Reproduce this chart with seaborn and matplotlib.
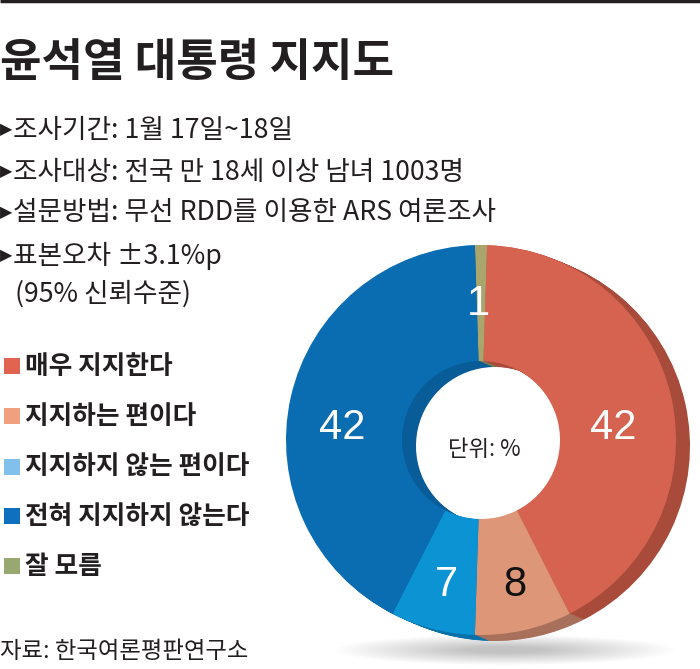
import numpy as np
import matplotlib
matplotlib.use("Agg")
import matplotlib.pyplot as plt
from matplotlib.patches import Rectangle, Ellipse
import seaborn as sns

# chart data (clockwise from the top)
categories = ["잘 모름", "매우 지지한다", "지지하는 편이다", "지지하지 않는 편이다", "전혀 지지하지 않는다"]
values = [1, 42, 8, 7, 42]
label_text = ["1", "42", "8", "7", "42"]

# legend order as printed on the left
legend_order = ["매우 지지한다", "지지하는 편이다", "지지하지 않는 편이다", "전혀 지지하지 않는다", "잘 모름"]

title = "윤석열 대통령 지지도"
info_lines = ["조사기간: 1월 17일~18일",
              "조사대상: 전국 만 18세 이상 남녀 1003명",
              "설문방법: 무선 RDD를 이용한 ARS 여론조사",
              "표본오차 ±3.1%p"]
info_extra = "(95% 신뢰수준)"
center_note = "단위: %"
source = "자료: 한국여론평판연구소"

# styles
face_colors = {"잘 모름": "#A9A56C", "매우 지지한다": "#D6634F", "지지하는 편이다": "#DD9677",
               "지지하지 않는 편이다": "#0B93D3", "전혀 지지하지 않는다": "#0A6DB2"}
side_colors = {"잘 모름": "#7E7B4E", "매우 지지한다": "#A84B3B", "지지하는 편이다": "#A8705A",
               "지지하지 않는 편이다": "#0A70A8", "전혀 지지하지 않는다": "#085C98"}
legend_colors = {"매우 지지한다": "#E0644F", "지지하는 편이다": "#F0A07E",
                 "지지하지 않는 편이다": "#80C0EA", "전혀 지지하지 않는다": "#0F70C0", "잘 모름": "#98A870"}
label_colors = ["white", "white", "#111111", "white", "white"]
label_pos = [(478, 304), (613, 428), (515, 585), (446, 585), (342, 428)]

W, H = 700, 669
ink = "#231F20"

sns.set_theme(style="white")
plt.rcParams["font.family"] = ["Noto Sans CJK KR", "DejaVu Sans"]


def py(y):
    # pixel row -> data y
    return H - y


fig = plt.figure(figsize=(7, 6.69), dpi=100)
ax = fig.add_axes([0, 0, 1, 1])

cx, cy, R, r_in = 481, 440, 195, 79
dx, dy = 14, 6
start = 90 + values[0] * 3.6 / 2

# soft floor shadow
for k in range(30):
    ax.add_patch(Ellipse((505, py(650)), 340 - k * 9, 30 - k * 0.8,
                         color="#666666", alpha=0.012, lw=0, zorder=0))

# extruded side of the ring
steps = 14
for k in range(steps, 0, -1):
    ox = cx + dx * k / steps
    oy = cy + dy * k / steps
    ax.pie(values, colors=[side_colors[c] for c in categories], startangle=start,
           counterclock=False, radius=R, center=(ox, py(oy)),
           wedgeprops=dict(width=R - r_in, edgecolor="none", linewidth=0))

# front face
ax.pie(values, colors=[face_colors[c] for c in categories], startangle=start,
       counterclock=False, radius=R, center=(cx, py(cy)),
       wedgeprops=dict(width=R - r_in, edgecolor="none", linewidth=0))

for txt, (x, y), col in zip(label_text, label_pos, label_colors):
    ax.text(x, py(y), txt, color=col, fontsize=30, ha="center", va="center",
            family=["Liberation Sans", "DejaVu Sans"])

ax.text(484, py(449), center_note, color=ink, fontsize=16, ha="center", va="center")

# top rule and title
ax.plot([0, W], [py(1), py(1)], color=ink, lw=2.5, solid_capstyle="butt")
ax.text(0, py(63), title, color=ink, fontsize=32.5, fontweight="bold", ha="left", va="center")

# survey info
line_y = [130, 172, 213, 256]
for s, y in zip(info_lines, line_y):
    ax.text(0, py(y), "▶", color=ink, fontsize=11.5, ha="left", va="center",
            family=["DejaVu Sans"])
    ax.text(13, py(y), s, color=ink, fontsize=19.2, ha="left", va="center")
ax.text(15, py(294), info_extra, color=ink, fontsize=19.2, ha="left", va="center")

# legend
leg_y = [366, 416, 467, 516, 566]
for name, y in zip(legend_order, leg_y):
    ax.add_patch(Rectangle((4, py(y) - 8), 16, 16, color=legend_colors[name], lw=0))
    ax.text(25, py(y), name, color=ink, fontsize=18.5, fontweight="bold",
            ha="left", va="center")

ax.text(0, py(652), source, color=ink, fontsize=16.8, ha="left", va="center")

ax.set_xlim(0, W)
ax.set_ylim(0, H)
ax.set_aspect("equal")
ax.axis("off")

fig.savefig("out.png", dpi=100, facecolor="white")
